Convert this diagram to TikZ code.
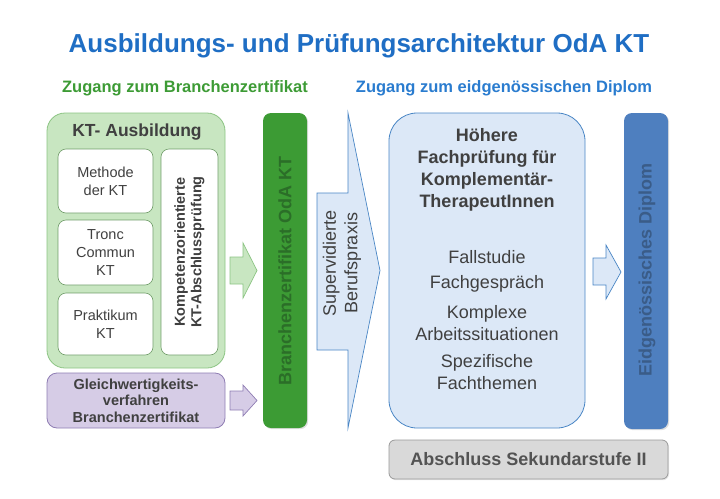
\documentclass[tikz,border=0pt]{standalone}
\usepackage{fontspec}
\setmainfont{Liberation Sans}
\usetikzlibrary{shadows}
\definecolor{titleblue}{HTML}{1F6EC4}
\definecolor{subgreen}{HTML}{3D9B35}
\definecolor{subblue}{HTML}{2A7CCF}
\definecolor{lgreen}{HTML}{C8E6C1}
\definecolor{lgreenb}{HTML}{8CC483}
\definecolor{dgreen}{HTML}{3C9B34}
\definecolor{dgreent}{HTML}{2B6E28}
\definecolor{lpurple}{HTML}{D6CCE6}
\definecolor{purpleb}{HTML}{8F7DB3}
\definecolor{lblue}{HTML}{DCE8F7}
\definecolor{blueb}{HTML}{4A86C5}
\definecolor{dblue}{HTML}{4E7FBF}
\definecolor{dbluet}{HTML}{3A5C88}
\definecolor{lgray}{HTML}{D9D9D9}
\definecolor{grayb}{HTML}{9A9A9A}
\definecolor{txt}{HTML}{404040}
\begin{document}
\begin{tikzpicture}[x=1pt,y=-1pt,
  every node/.style={inner sep=0pt, outer sep=0pt, text=txt},
  whitebox/.style={draw=lgreenb!80!black, line width=0.6pt, fill=white, rounded corners=8pt, align=center, font=\fontsize{14.5}{18}\selectfont},
  barbox/.style={rounded corners=8pt, line width=0pt, drop shadow={shadow xshift=1.2pt, shadow yshift=-1.2pt, opacity=0.25}},
  blockarrow/.style={line width=0.7pt, line join=miter}
]
\useasboundingbox (0,0) rectangle (720,498);
% title
\node[font=\fontsize{26}{30}\bfseries\selectfont, text=titleblue] (title) at (359,46) {Ausbildungs- und Prüfungsarchitektur OdA KT};
\node[font=\fontsize{16.5}{20}\bfseries\selectfont, text=subgreen] (subA) at (185,88) {Zugang zum Branchenzertifikat};
\node[font=\fontsize{16.5}{20}\bfseries\selectfont, text=subblue] (subB) at (504,88) {Zugang zum eidgenössischen Diplom};
% green KT box
\node[draw=lgreenb, fill=lgreen, line width=0.8pt, rounded corners=18pt, minimum width=178pt, minimum height=255pt] (kt) at (136,240.5) {};
\node[font=\fontsize{17.5}{20}\bfseries\selectfont] (kttitle) at (137,132) {KT- Ausbildung};
\node[whitebox, minimum width=95pt, minimum height=64pt] (meth) at (105.5,181) {Methode\\der KT};
\node[whitebox, minimum width=95pt, minimum height=65pt] (tronc) at (105.5,252.5) {Tronc\\Commun\\KT};
\node[whitebox, minimum width=95pt, minimum height=62pt] (prak) at (105.5,324) {Praktikum\\KT};
\node[whitebox, minimum width=57pt, minimum height=206pt] (komp) at (189.5,252) {};
\node[rotate=90, align=center, font=\fontsize{14.5}{16.5}\bfseries\selectfont] (komptext) at (komp.center) {Kompetenzorientierte\\KT-Abschlussprüfung};
% purple box
\node[draw=purpleb, fill=lpurple, line width=0.8pt, rounded corners=10pt, minimum width=178pt, minimum height=55pt, align=center, font=\fontsize{14.5}{16.5}\bfseries\selectfont] (gleich) at (136,400.5) {Gleichwertigkeits-\\verfahren\\Branchenzertifikat};
% small arrows
\draw[blockarrow, draw=lgreenb, fill=lgreen] (230,257) -- (243,257) -- (243,243) -- (257,270.5) -- (243,298) -- (243,284) -- (230,284) -- cycle;
\draw[blockarrow, draw=purpleb, fill=lpurple] (230,391) -- (243,391) -- (243,385) -- (257,400.5) -- (243,416) -- (243,410) -- (230,410) -- cycle;
% green bar
\node[barbox, fill=dgreen, minimum width=44pt, minimum height=315pt] (gbar) at (285,270.5) {};
\node[rotate=90, font=\fontsize{18}{20}\bfseries\selectfont, text=dgreent] (gbartext) at (285,271) {Branchenzertifikat OdA KT};
% Supervidierte arrow
\draw[blockarrow, draw=blueb, fill=lblue] (317,193) -- (348,193) -- (348,113) -- (380,270.5) -- (348,428) -- (348,350) -- (317,350) -- cycle;
\node[rotate=90, align=center, font=\fontsize{18}{21.5}\selectfont] (superv) at (342,263) {Supervidierte\\Berufspraxis};
% blue box
\node[draw=blueb, fill=lblue, line width=0.8pt, rounded corners=28pt, minimum width=196pt, minimum height=315pt] (hfp) at (487,270.5) {};
\node[align=center, font=\fontsize{18}{22}\bfseries\selectfont] (hfptitle) at (487,170) {Höhere\\Fachprüfung für\\Komplementär-\\TherapeutInnen};
\node[font=\fontsize{18}{22}\selectfont] (fall) at (487,257) {Fallstudie};
\node[font=\fontsize{18}{22}\selectfont] (gespr) at (487,284) {Fachgespräch};
\node[align=center, font=\fontsize{18}{22}\selectfont] (kompl) at (487,323) {Komplexe\\Arbeitssituationen};
\node[align=center, font=\fontsize{18}{22}\selectfont] (spez) at (487,372) {Spezifische\\Fachthemen};
% blue arrow
\draw[blockarrow, draw=blueb, fill=lblue] (593,258) -- (606,258) -- (606,245) -- (621,272) -- (606,299) -- (606,285) -- (593,285) -- cycle;
% blue bar
\node[barbox, fill=dblue, minimum width=44pt, minimum height=316pt] (bbar) at (646,271) {};
\node[rotate=90, font=\fontsize{18}{20}\bfseries\selectfont, text=dbluet] (bbartext) at (647,270) {Eidgenössisches Diplom};
% gray box
\node[draw=grayb, fill=lgray, line width=0.8pt, rounded corners=6pt, minimum width=279pt, minimum height=39pt, drop shadow={shadow xshift=1pt, shadow yshift=-1.2pt, opacity=0.2}, font=\fontsize{18}{20}\bfseries\selectfont, text=txt!90!white] (sek) at (528.5,459.5) {Abschluss Sekundarstufe II};
\end{tikzpicture}
\end{document}
